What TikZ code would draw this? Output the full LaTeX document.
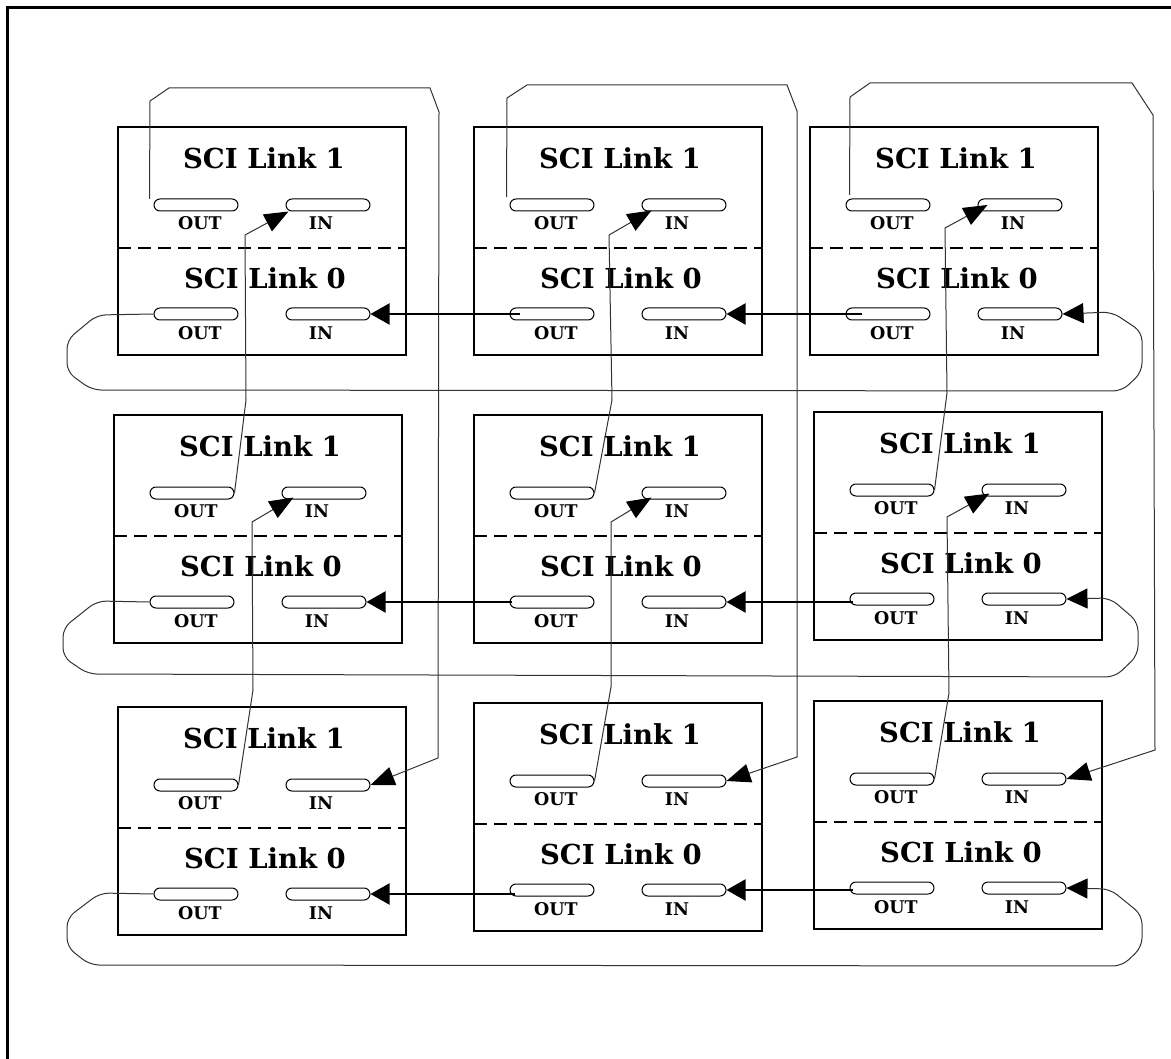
\documentclass[tikz,border=0pt]{standalone}
\usepackage{fontspec}
\newfontfamily\schfont{DejaVu Serif}
\usetikzlibrary{arrows.meta,calc}
\tikzset{
  unitbox/.style={draw,line width=2pt,minimum width=288pt,minimum height=228pt,inner sep=0pt},
  sepline/.style={line width=1.5pt,dash pattern=on 13pt off 7pt},
  pill/.style={draw,line width=1pt,rounded corners=6pt,minimum width=84pt,minimum height=12pt,inner sep=0pt},
  ttl/.style={font=\schfont\bfseries\fontsize{27.5}{29}\selectfont,inner sep=0pt},
  lbl/.style={font=\schfont\bfseries\fontsize{17.5}{18}\selectfont,inner sep=0pt},
  uplink/.style={line width=1pt,black!80,-{Triangle[length=24pt,width=19pt,color=black]}},
  ringlink/.style={line width=1pt,black!80,rounded corners=9pt,-{Triangle[length=21pt,width=20pt,color=black]}},
  rowlink/.style={line width=2pt,black,-{Triangle[length=19pt,width=21pt]}},
  framedge/.style={line width=3pt,black}
}
\newcommand{\sciunit}[3]{%
  \node[unitbox] (#1) at (#2+144,#3+114) {};
  \draw[sepline] (#2,#3+121) -- (#2+288,#3+121);
  \node[ttl] (#1-t1) at (#2+146,#3+31) {SCI Link 1};
  \node[pill] (#1-o1) at (#2+78,#3+78) {};
  \node[pill] (#1-i1) at (#2+210,#3+78) {};
  \node[lbl] (#1-lo1) at (#2+82,#3+96) {OUT};
  \node[lbl] (#1-li1) at (#2+203,#3+96) {IN};
  \node[ttl] (#1-t0) at (#2+147,#3+151) {SCI Link 0};
  \node[pill] (#1-o0) at (#2+78,#3+187) {};
  \node[pill] (#1-i0) at (#2+210,#3+187) {};
  \node[lbl] (#1-lo0) at (#2+82,#3+206) {OUT};
  \node[lbl] (#1-li0) at (#2+203,#3+206) {IN};
}
\begin{document}
\begin{tikzpicture}[x=1pt,y=-1pt]
\useasboundingbox (0,0) rectangle (1171,1059);
\fill[white] (0,0) rectangle (1171,1059);
\draw[framedge] (7,1059) -- (7,8) -- (1171,8);

% units
\sciunit{A1}{118}{127}
\sciunit{B1}{474}{127}
\sciunit{C1}{810}{127}
\sciunit{A2}{114}{415}
\sciunit{B2}{474}{415}
\sciunit{C2}{814}{412}
\sciunit{A3}{118}{707}
\sciunit{B3}{474}{703}
\sciunit{C3}{814}{701}

% SCI Link 1 rings (columns)
\draw[uplink] ($(A1-o1.west)+(-4,-6)$) -- (150,101) -- (169,88) -- (430,88) -- (439,112) -- (438,758) -- (A3-i1.east);
\draw[uplink] (A3-o1.east) -- (253,690) -- (252,522) -- ($(A2-i1.south west)+(12,-2)$);
\draw[uplink] (A2-o1.east) -- (246,400) -- (245,235) -- ($(A1-i1.south west)+(3,0)$);

\draw[uplink] ($(B1-o1.west)+(-3,-8)$) -- (507,98) -- (527,85) -- (787,85) -- (797,111) -- (797,757) -- (B3-i1.east);
\draw[uplink] (B3-o1.east) -- (611,687) -- (611,522) -- ($(B2-i1.south west)+(10,-2)$);
\draw[uplink] (B2-o1.east) -- (612,400) -- (609,235) -- ($(B1-i1.south west)+(10,-1)$);

\draw[uplink] ($(C1-o1.west)+(4,-10)$) -- (850,97) -- (870,83) -- (1132,83) -- (1153,115) -- (1155,750) -- (C3-i1.east);
\draw[uplink] (C3-o1.east) -- (949,693) -- (947,517) -- ($(C2-i1.south west)+(8,-3)$);
\draw[uplink] (C2-o1.east) -- (947,393) -- (945,228) -- ($(C1-i1.west)+(10,0)$);

% SCI Link 0 rings (rows)
\draw[rowlink] ($(A1-i0.east -| B1-o0.west)+(10,0)$) -- (A1-i0.east);
\draw[rowlink] ($(B1-i0.east -| C1-o0.west)+(16,0)$) -- (B1-i0.east);
\draw[ringlink] (A1-o0.west) -- (97,315) -- (67,340) -- (67,372) -- (92,390) -- (1122,391) -- (1142,372) -- (1142,332) -- (1112,312) -- (C1-i0.east);

\draw[rowlink] ($(A2-i0.east -| B2-o0.west)+(2,0)$) -- (A2-i0.east);
\draw[rowlink] ($(B2-i0.east -| C2-o0.west)+(3,0)$) -- (B2-i0.east);
\draw[ringlink] (A2-o0.west) -- (97,601) -- (63,628) -- (63,657) -- (88,674) -- (1115,677) -- (1138,655) -- (1138,622) -- (1110,598) -- (C2-i0.east);

\draw[rowlink] ($(A3-i0.east -| B3-o0.west)+(5,0)$) -- (A3-i0.east);
\draw[rowlink] ($(B3-i0.east -| C3-o0.west)+(3,0)$) -- (B3-i0.east);
\draw[ringlink] (A3-o0.west) -- (100,893) -- (67,918) -- (67,947) -- (90,965) -- (1122,966) -- (1142,947) -- (1142,915) -- (1110,889) -- (C3-i0.east);
\end{tikzpicture}
\end{document}
